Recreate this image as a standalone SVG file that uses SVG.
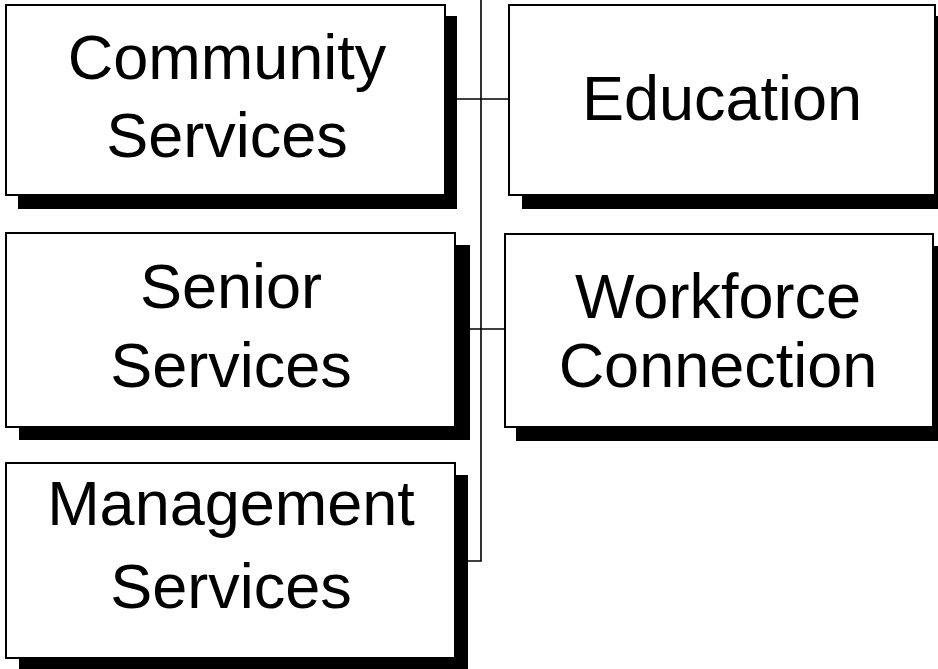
<svg xmlns="http://www.w3.org/2000/svg" width="938" height="669" viewBox="0 0 938 669">
<style>
.box{fill:#fff;stroke:#000;stroke-width:2}
.sh{fill:#000}
.lbl{font-family:"Liberation Sans",Arial,sans-serif;font-size:63px;fill:#000;text-anchor:middle}
.con{fill:none;stroke:#000;stroke-width:1.6}
</style>
<rect width="938" height="669" fill="#fff"/>
<g id="connectors">
<polyline class="con" points="481,0 481,561 468,561"/>
<line class="con" x1="457" y1="99" x2="509" y2="99"/>
<line class="con" x1="469" y1="329" x2="505" y2="329"/>
</g>
<g id="community">
<rect class="sh" x="18" y="16" width="439" height="193"/>
<rect class="box" x="6" y="5" width="439" height="190"/>
<text class="lbl" x="227" y="79">Community</text>
<text class="lbl" x="227" y="157">Services</text>
</g>
<g id="education">
<rect class="sh" x="522" y="16" width="426" height="193"/>
<rect class="box" x="509" y="5" width="426" height="190"/>
<text class="lbl" x="722" y="120">Education</text>
</g>
<g id="senior">
<rect class="sh" x="19" y="245" width="451" height="195"/>
<rect class="box" x="6" y="233" width="449" height="194"/>
<text class="lbl" x="231" y="308">Senior</text>
<text class="lbl" x="231" y="387">Services</text>
</g>
<g id="workforce">
<rect class="sh" x="516" y="246" width="430" height="195"/>
<rect class="box" x="505" y="234" width="428" height="193"/>
<text class="lbl" x="718" y="318">Workforce</text>
<text class="lbl" x="718" y="387">Connection</text>
</g>
<g id="management">
<rect class="sh" x="19" y="475" width="449" height="200"/>
<rect class="box" x="6" y="463" width="449" height="195"/>
<text class="lbl" x="231" y="525">Management</text>
<text class="lbl" x="231" y="608">Services</text>
</g>
</svg>
